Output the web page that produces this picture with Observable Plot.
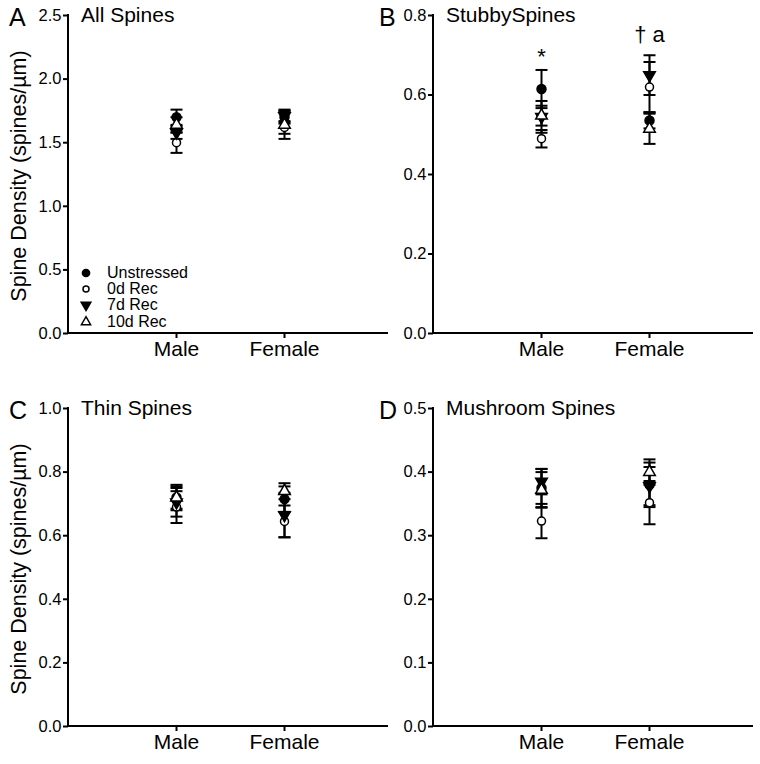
<!DOCTYPE html>
<html><head><meta charset="utf-8">
<script src="https://cdn.jsdelivr.net/npm/d3@7"></script>
<script src="https://cdn.jsdelivr.net/npm/@observablehq/plot@0.6"></script>
<style>
body{margin:0;background:#fff;font-family:"Liberation Sans",Arial,Helvetica,sans-serif;}
#root{position:relative;width:760px;height:764px;overflow:hidden;}
.panel{position:absolute}
.lbl{position:absolute;color:#000;white-space:nowrap;line-height:1}
</style></head><body><div id="root"></div>
<script>
// ---------- data ----------
const sexes = ["Male", "Female"];
const groups = ["Unstressed", "0d Rec", "7d Rec", "10d Rec"];

// per group: [Male, Female]
const meanAll = [[1.70, 1.70], [1.50, 1.62], [1.58, 1.71], [1.64, 1.64]];
const semAll  = [[0.06, 0.05], [0.08, 0.05], [0.05, 0.05], [0.06, 0.11]];

const meanStubby = [[0.615, 0.536], [0.490, 0.620], [0.545, 0.650], [0.548, 0.515]];
const semStubby  = [[0.048, 0.020], [0.022, 0.063], [0.040, 0.050], [0.025, 0.038]];

const meanThin = [[0.72, 0.715], [0.69, 0.645], [0.705, 0.665], [0.72, 0.74]];
const semThin  = [[0.04, 0.040], [0.05, 0.050], [0.045, 0.070], [0.035, 0.025]];

const meanMush = [[0.375, 0.380], [0.323, 0.352], [0.385, 0.378], [0.372, 0.400]];
const semMush  = [[0.030, 0.035], [0.027, 0.034], [0.020, 0.030], [0.028, 0.020]];

const ticksAll = [0, 0.5, 1.0, 1.5, 2.0, 2.5];
const ticksStubby = [0, 0.2, 0.4, 0.6, 0.8];
const ticksThin = [0, 0.2, 0.4, 0.6, 0.8, 1.0];
const ticksMush = [0, 0.1, 0.2, 0.3, 0.4, 0.5];

const annotText = ["*", "† a"];
const annotSex = ["Male", "Female"];
const annotY = [0.695, 0.752];

const yTitle = "Spine Density (spines/µm)";

// ---------- symbols ----------
const triangleDown = {
  draw(ctx, size) {
    const y = -Math.sqrt(size / (Math.sqrt(3) * 3));
    ctx.moveTo(0, -y * 2);
    ctx.lineTo(-Math.sqrt(3) * y, y);
    ctx.lineTo(Math.sqrt(3) * y, y);
    ctx.closePath();
  }
};
const capSymbol = {
  draw(ctx, size) {
    const w = Math.sqrt(size / Math.PI);
    ctx.moveTo(-w, 0);
    ctx.lineTo(w, 0);
  }
};
const groupStyle = [
  {symbol: "circle", fill: "#000", r: 4.5, lr: 3.6},
  {symbol: "circle", fill: "#fff", r: 4, lr: 3},
  {symbol: triangleDown, fill: "#000", r: 4.3, lr: 3.6},
  {symbol: "triangle", fill: "#fff", r: 4.3, lr: 3.4}
];

function rows(mean, sem) {
  const out = [];
  groups.forEach((g, gi) => sexes.forEach((s, si) => {
    const m = mean[gi][si], e = sem[gi][si];
    out.push({group: g, gi, sex: s, mean: m, lo: m - e, hi: m + e});
  }));
  return out;
}

function axisLines(index, scales, values, dims) {
  const {marginLeft: l, marginTop: t, marginRight: r, marginBottom: b, width: w, height: h} = dims;
  const p = document.createElementNS("http://www.w3.org/2000/svg", "path");
  p.setAttribute("d", `M${l},${t - 1}V${h - b}H${w - r}`);
  p.setAttribute("fill", "none");
  p.setAttribute("stroke", "#000");
  p.setAttribute("stroke-width", "2");
  return p;
}

function makePanel(cfg) {
  const data = rows(cfg.mean, cfg.sem);
  const W = 390, H = 372;
  const mT = 15, mB = 39;
  const marks = [
    Plot.ruleX(data, {x: "sex", y1: "lo", y2: "hi", stroke: "#000", strokeWidth: 2}),
    Plot.dot(data, {x: "sex", y: "hi", symbol: capSymbol, r: 6, stroke: "#000", strokeWidth: 2, fill: "none"}),
    Plot.dot(data, {x: "sex", y: "lo", symbol: capSymbol, r: 6, stroke: "#000", strokeWidth: 2, fill: "none"})
  ];
  groupStyle.forEach((st, gi) => {
    marks.push(Plot.dot(data.filter(d => d.gi === gi), {
      x: "sex", y: "mean", symbol: st.symbol, r: st.r, fill: st.fill, stroke: "#000", strokeWidth: 1.5
    }));
  });
  if (cfg.annot) {
    const ad = annotText.map((t, i) => ({text: t, sex: annotSex[i], y: annotY[i]}));
    marks.push(Plot.text(ad, {x: "sex", y: "y", text: "text", fontSize: 22, fill: "#000", textAnchor: "middle"}));
  }
  // y axis: tick marks via axis, labels via text mark with explicit font size
  marks.push(Plot.axisY({ticks: cfg.ticks, tickSize: 5, text: null, label: null, strokeWidth: 2}));
  marks.push(Plot.text(cfg.ticks, {y: d => d, text: d3.format(".1f"), frameAnchor: "left", textAnchor: "end", dx: -7, fontSize: 16.5, fill: "#000"}));
  marks.push(Plot.axisX({tickSize: 5, tickPadding: 3, fontSize: 21, label: null, strokeWidth: 2}));
  marks.push(axisLines);
  return Plot.plot({
    width: W, height: H,
    marginLeft: cfg.mL, marginRight: W - cfg.mL - 320, marginTop: mT, marginBottom: mB,
    style: {fontFamily: '"Liberation Sans", Arial, sans-serif', fontSize: "16px", color: "#000", background: "transparent", overflow: "visible"},
    x: {type: "point", domain: sexes, range: [cfg.mL + 108, cfg.mL + 216], padding: 0},
    y: {domain: [0, cfg.yMax], range: [H - mB, mT]},
    marks
  });
}

const panels = [
  {letter: "A", title: "All Spines", mean: meanAll, sem: semAll, yMax: 2.5, ticks: ticksAll, left: 0, top: 0, mL: 68, ylabel: true},
  {letter: "B", title: "StubbySpines", mean: meanStubby, sem: semStubby, yMax: 0.8, ticks: ticksStubby, left: 370, top: 0, mL: 63, annot: true},
  {letter: "C", title: "Thin Spines", mean: meanThin, sem: semThin, yMax: 1.0, ticks: ticksThin, left: 0, top: 393, mL: 68, ylabel: true},
  {letter: "D", title: "Mushroom Spines", mean: meanMush, sem: semMush, yMax: 0.5, ticks: ticksMush, left: 370, top: 393, mL: 63}
];

const root = document.getElementById("root");
function addLabel(text, x, y, size, extra) {
  const d = document.createElement("div");
  d.className = "lbl";
  d.textContent = text;
  d.style.left = x + "px"; d.style.top = y + "px"; d.style.fontSize = size + "px";
  if (extra) Object.assign(d.style, extra);
  root.appendChild(d);
  return d;
}

panels.forEach(p => {
  const div = document.createElement("div");
  div.className = "panel";
  div.style.left = p.left + "px"; div.style.top = p.top + "px";
  div.appendChild(makePanel(p));
  root.appendChild(div);
  addLabel(p.letter, p.left + 9, p.top + 5, 25);
  addLabel(p.title, p.left + p.mL + 13, p.top + 4, 21);
  if (p.ylabel) {
    addLabel(yTitle, p.left + 20, p.top + 176, 21.5, {transform: "translate(-50%,-50%) rotate(-90deg)"});
  }
});

// legend (panel A)
const NS = "http://www.w3.org/2000/svg";
groups.forEach((g, gi) => {
  const cy = 273 + gi * 16.2;
  const st = groupStyle[gi];
  const svg = document.createElementNS(NS, "svg");
  svg.setAttribute("width", 16); svg.setAttribute("height", 16);
  svg.style.position = "absolute"; svg.style.left = (86 - 8) + "px"; svg.style.top = (cy - 8) + "px";
  const path = document.createElementNS(NS, "path");
  const sym = st.symbol === "circle" ? d3.symbolCircle : st.symbol === "triangle" ? d3.symbolTriangle : triangleDown;
  path.setAttribute("d", d3.symbol(sym, Math.PI * st.lr * st.lr)());
  path.setAttribute("transform", "translate(8,8)");
  path.setAttribute("fill", st.fill); path.setAttribute("stroke", "#000"); path.setAttribute("stroke-width", 1.5);
  svg.appendChild(path);
  root.appendChild(svg);
  addLabel(g, 107, cy - 8, 16);
});
</script></body></html>
